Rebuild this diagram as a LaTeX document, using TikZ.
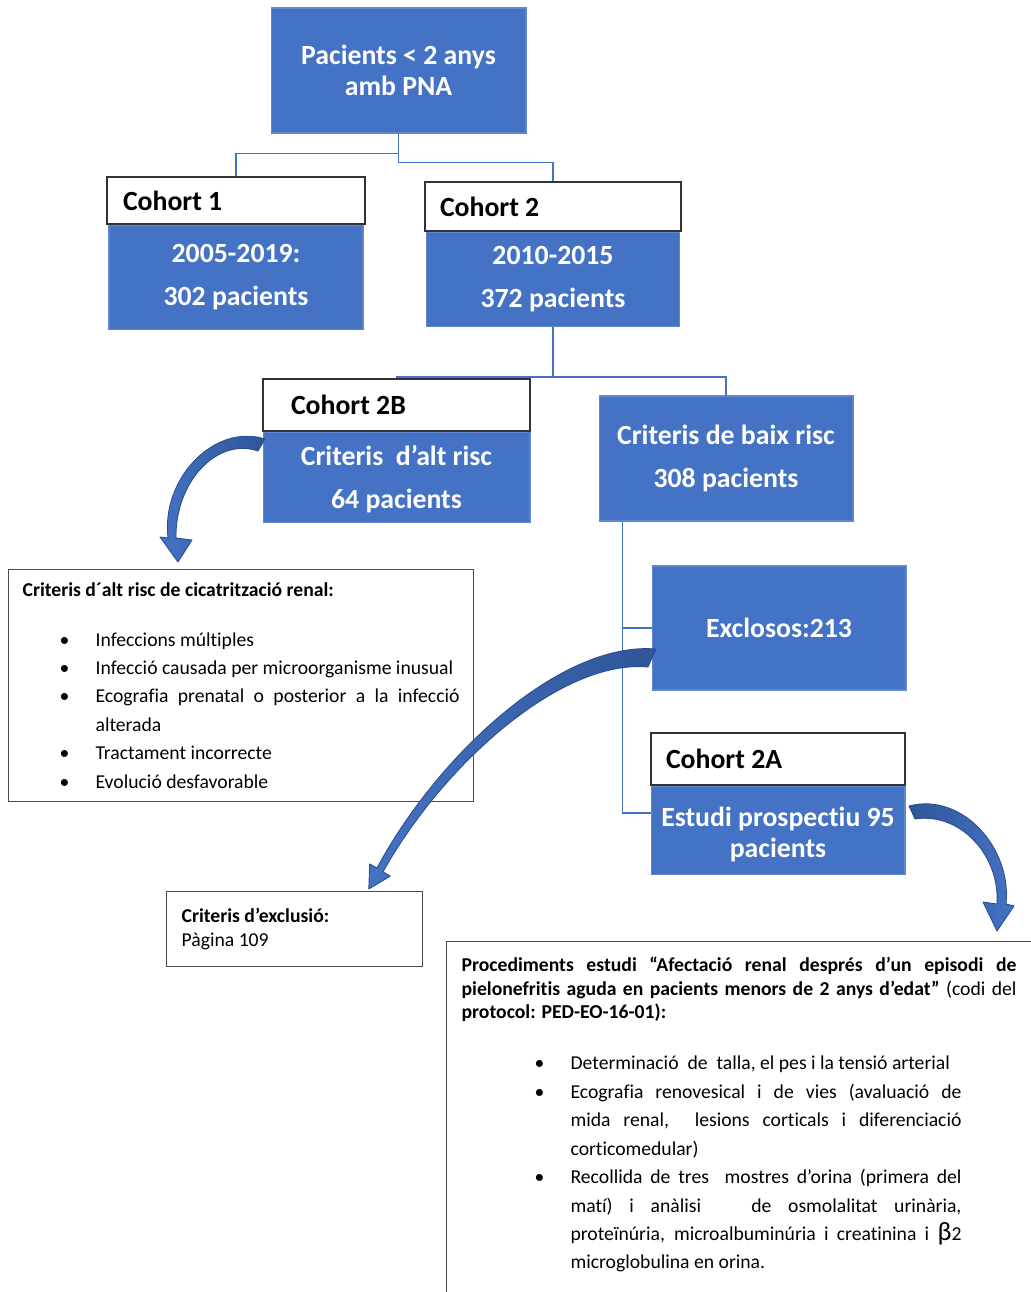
\documentclass[tikz,border=0pt]{standalone}
\usepackage{fontspec}
\setmainfont{Carlito}[Ligatures=NoCommon]
\usepackage{xcolor}
\usepackage{tikz}
\usetikzlibrary{positioning}
\definecolor{boxblue}{HTML}{4472C4}
\definecolor{lineblue}{HTML}{4472C4}
\definecolor{arrowdark}{HTML}{2F5597}
\definecolor{arrowedge}{HTML}{2B4F8C}
\newcommand{\fcitem}[3]{\par\hangindent=#2\hangafter=1\noindent\hspace*{#1}\makebox[\dimexpr#2-#1\relax][l]{\textbullet}\ignorespaces#3}
\tikzset{
  fc_blue/.style={
    draw=boxblue!85!white, fill=boxblue, text=white, line width=0.6pt,
    font=\bfseries\fontsize{15.8}{24.4}\selectfont, align=flush center, inner sep=0pt
  },
  fc_head/.style={
    draw=black!80, fill=white, line width=0.8pt,
    font=\bfseries\fontsize{15.8}{19}\selectfont, align=flush left, inner ysep=0pt
  },
  fc_note/.style={
    draw=black!70, fill=white, line width=0.7pt, anchor=north west,
    font=\fontsize{11.2}{16.2}\selectfont, align=justify
  },
  fc_line/.style={draw=lineblue, line width=0.9pt},
  fc_curve/.style={draw=arrowedge, line width=0.5pt, line join=round},
}

\begin{document}
\begin{tikzpicture}[x=0.02cm, y=-0.02cm]
\useasboundingbox (0,0) rectangle (1031,1292);
\clip (0,0) rectangle (1031,1292);

\node[fc_blue, minimum width=5.1cm, minimum height=2.5cm,
      font=\bfseries\fontsize{15.8}{17.6}\selectfont] (top) at (398.5,70.5) {Pacients < 2 anys\\amb PNA};

% Cohort 1 and Cohort 2
\node[fc_head, text width=4.52cm, inner xsep=0.32cm, minimum height=0.94cm] (c1head) at (236,200.5) {Cohort 1};
\node[fc_blue, below=0pt of c1head, minimum width=5.08cm, minimum height=2.08cm] (c1body) {2005-2019:\\302 pacients};
\node[fc_head, text width=4.52cm, inner xsep=0.3cm, minimum height=0.98cm] (c2head) at (553,206.5) {Cohort 2};
\node[fc_blue, below=0pt of c2head, minimum width=5.06cm, minimum height=1.88cm] (c2body) {2010-2015\\372 pacients};

% High / low risk split
\node[fc_head, text width=4.22cm, inner xsep=0.56cm, minimum height=1.04cm] (c2bhead) at (396.5,405) {Cohort 2B};
\node[fc_blue, below=0pt of c2bhead, minimum width=5.34cm, minimum height=1.8cm] (c2bbody) {\rule{0pt}{14pt}Criteris\ \ d’alt risc\\64 pacients};
\node[fc_blue, minimum width=5.08cm, minimum height=2.5cm] (baix) at (726,458.5) {Criteris de baix risc\\308 pacients};
\node[fc_blue, minimum width=5.08cm, minimum height=2.48cm] (excl) at (779,628) {Exclosos:213};
\node[fc_head, text width=4.48cm, inner xsep=0.3cm, minimum height=1.04cm] (c2ahead) at (778,759) {Cohort 2A};
\node[fc_blue, below=0pt of c2ahead, minimum width=5.08cm, minimum height=1.76cm,
      font=\bfseries\fontsize{15.8}{18}\selectfont] (c2abody) {\rule{0pt}{16pt}Estudi prospectiu 95\\pacients};

% Text boxes
\node[fc_note, minimum width=9.3cm, minimum height=4.64cm, text width=8.74cm, inner xsep=0.28cm] (altrisc) at (8,569) {%
\noindent\textbf{Criteris d´alt risc de cicatrització renal:}\par\vspace{12pt}
\fcitem{0.74cm}{1.46cm}{Infeccions múltiples}
\fcitem{0.74cm}{1.46cm}{Infecció causada per microorganisme inusual}
\fcitem{0.74cm}{1.46cm}{Ecografia prenatal o posterior a la infecció\linebreak alterada}
\fcitem{0.74cm}{1.46cm}{Tractament incorrecte}
\fcitem{0.74cm}{1.46cm}{Evolució desfavorable}};

\node[fc_note, align=flush left, minimum width=5.12cm, minimum height=1.5cm, text width=4.52cm, inner xsep=0.3cm,
      font=\fontsize{11.2}{13.6}\selectfont] (exclcrit) at (166,891) {\textbf{Criteris d’exclusió:}\\Pàgina 109};

\node[fc_note, text width=11.1cm, inner xsep=0.3cm, inner ysep=0.3cm] (proc) at (446,941) {%
{\fontsize{11.2}{13.6}\selectfont\noindent\textbf{Procediments estudi “Afectació renal després d’un episodi de\linebreak pielonefritis aguda en pacients menors de 2 anys d’edat”} (codi del\linebreak \textbf{protocol: PED-EO-16-01):}\par}
\vspace{12.7pt}
{\rightskip=1.1cm
\fcitem{1.46cm}{2.18cm}{Determinació\ \ de\ \ talla, el pes i la tensió arterial}
\fcitem{1.46cm}{2.18cm}{Ecografia renovesical i de vies (avaluació de\linebreak mida renal,\ \ lesions corticals i diferenciació\linebreak corticomedular)}
\fcitem{1.46cm}{2.18cm}{Recollida de tres\ \ mostres d’orina (primera del\linebreak matí) i anàlisi\ \ \ de osmolalitat urinària,\linebreak proteïnúria, microalbuminúria i creatinina i {\fontsize{15}{16}\selectfont β}2\linebreak microglobulina en orina.}\par}
\vspace*{1cm}\mbox{}};

% Tree connectors
\draw[fc_line] (top.south) -- ++(0,20) -| (c1head.north);
\draw[fc_line] (top.south) -- ++(0,29) -| (c2head.north);
\draw[fc_line] (c2body.south) -- ++(0,50) -| (c2bhead.north);
\draw[fc_line] (c2body.south) -- ++(0,50) -| (baix.north);
\draw[fc_line] ([xshift=0.48cm]baix.south west) |- (excl.west);
\draw[fc_line] ([xshift=0.48cm]baix.south west) |- ([yshift=0.34cm]c2abody.west);

% Curved block arrows
\shadedraw[fc_curve, left color=boxblue, right color=arrowdark] (265,439) .. controls (215,423) and (161,478) .. (168,538)
  -- (160,537) -- (178,562) -- (192,540) -- (176,538)
  .. controls (175,482) and (217,437) .. (258,451) -- cycle;
\shadedraw[fc_curve, left color=boxblue, right color=arrowdark] (656,649) .. controls (560,641) and (437,756) .. (377,868)
  -- (369.7,863.9) -- (368.8,889) -- (390.3,876.1) -- (383,871.8)
  .. controls (444,763) and (562,659) .. (648,667) -- cycle;
\shadedraw[fc_curve, left color=arrowdark, right color=boxblue] (909,806) .. controls (962,792) and (1012,848) .. (1006,904)
  -- (1014,906) -- (997,931) -- (983,902) -- (997,904)
  .. controls (1000,855) and (960,812) .. (915,819) -- cycle;

\end{tikzpicture}
\end{document}
